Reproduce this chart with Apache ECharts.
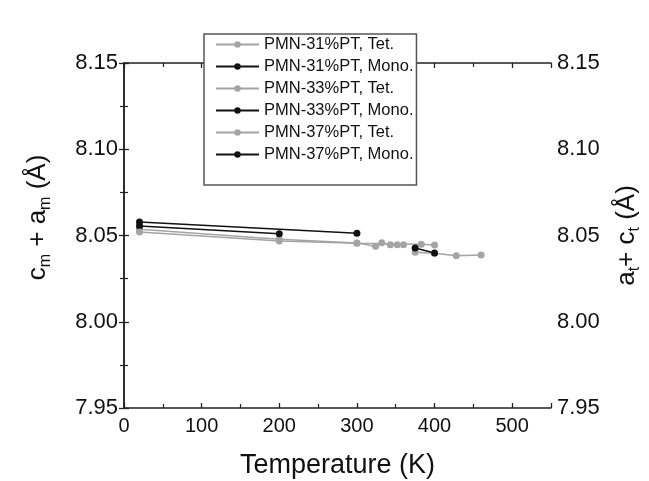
<!DOCTYPE html>
<html><head><meta charset="utf-8">
<script src="https://cdn.jsdelivr.net/npm/echarts@6/dist/echarts.min.js"></script>
<style>html,body{margin:0;padding:0;background:#fff}#c{width:649px;height:481px}</style>
</head><body><div id="c"></div>
<script>
const seriesNames = ['PMN-31%PT, Tet.','PMN-31%PT, Mono.','PMN-33%PT, Tet.','PMN-33%PT, Mono.','PMN-37%PT, Tet.','PMN-37%PT, Mono.'];
const pmn31Tet = [[375, 8.0403], [400, 8.0397], [428, 8.0383], [460, 8.0387]];
const pmn31Mono = [[20, 8.0578], [300, 8.0513]];
const pmn33Tet = [[20, 8.0536], [200, 8.0478], [300, 8.0456], [324, 8.0437], [332, 8.0458], [343, 8.0446], [352, 8.0447], [360, 8.0447]];
const pmn33Mono = [[20, 8.0555], [200, 8.0510]];
const pmn37Tet = [[20, 8.0520], [200, 8.0468], [300, 8.0455], [383, 8.0449], [400, 8.0445]];
const pmn37Mono = [[375, 8.0428], [400, 8.0399]];
const xTicks = [0, 100, 200, 300, 400, 500];
const yTicks = [7.95, 8.00, 8.05, 8.10, 8.15];

const gray = '#a4a4a4', black = '#111';
const datasets = [pmn31Tet, pmn31Mono, pmn33Tet, pmn33Mono, pmn37Tet, pmn37Mono];
const colors = [gray, black, gray, black, gray, black];
const chart = echarts.init(document.getElementById('c'));
const axisCol = '#222';
const commonY = {
  type: 'value', min: yTicks[0], max: yTicks[yTicks.length-1], interval: 0.05,
  axisLine: {show: true, lineStyle: {color: axisCol, width: 1.5}},
  axisTick: {inside: true, length: 5, lineStyle: {color: axisCol, width: 1.3}},
  minorTick: {show: true, splitNumber: 2, length: 4, lineStyle: {color: axisCol, width: 1.2}},
  splitLine: {show: false},
  axisLabel: {fontSize: 22, color: '#111', fontFamily: 'Liberation Sans', formatter: v => v.toFixed(2), margin: 6},
  nameLocation: 'middle', nameRotate: 90
};
const nameStyle = (pad) => ({fontSize: 26, color: '#111', fontFamily: 'Liberation Sans', padding: pad,
    rich: {s: {fontSize: 16, color: '#111', fontFamily: 'Liberation Sans', verticalAlign: 'bottom', padding: [16,0,0,0]}}});
chart.setOption({
  animation: false,
  grid: {left: 124, right: 98, top: 63, bottom: 73, outerBoundsMode: 'none', containLabel: false},
  legend: {
    orient: 'vertical', left: 204, top: 34,
    padding: [2, 3, 22, 11], itemGap: 5, itemWidth: 43, itemHeight: 8,
    backgroundColor: '#fff', borderColor: '#555', borderWidth: 1.5,
    textStyle: {fontSize: 16.5, lineHeight: 17, color: '#111', fontFamily: 'Liberation Sans'},
    data: seriesNames
  },
  xAxis: [{
    type: 'value', min: 0, max: 550, interval: 100, position: 'bottom',
    axisLine: {show: true, lineStyle: {color: axisCol, width: 1.5}},
    axisTick: {inside: true, length: 5, lineStyle: {color: axisCol, width: 1.3}},
    minorTick: {show: true, splitNumber: 2, length: 4, lineStyle: {color: axisCol, width: 1.2}},
    splitLine: {show: false},
    axisLabel: {fontSize: 20, color: '#111', fontFamily: 'Liberation Sans', showMaxLabel: false, margin: 8,
      formatter: v => xTicks.includes(v) ? String(v) : ''},
    name: 'Temperature (K)', nameLocation: 'middle', nameGap: 44,
    nameTextStyle: {fontSize: 27, color: '#111', fontFamily: 'Liberation Sans'}
  }, {
    type: 'value', min: 0, max: 550, interval: 100, position: 'top',
    axisLine: {show: true, lineStyle: {color: axisCol, width: 1.5}},
    axisTick: {inside: true, length: 5, lineStyle: {color: axisCol, width: 1.3}},
    minorTick: {show: true, splitNumber: 2, length: 4, lineStyle: {color: axisCol, width: 1.2}},
    splitLine: {show: false}, axisLabel: {show: false}
  }],
  yAxis: [Object.assign({}, commonY, {position: 'left', name: 'c{s|m} + a{s|m} (Å)', nameGap: 70, nameTextStyle: nameStyle([0,0,0,36])}),
          Object.assign({}, commonY, {position: 'right', name: 'a{s|t}+ c{s|t} (Å)', nameGap: 60, nameTextStyle: nameStyle([0,0,0,0])})],
  series: seriesNames.map((n, i) => ({
    name: n, type: 'line', data: datasets[i], xAxisIndex: 0, yAxisIndex: 0,
    symbol: 'circle', symbolSize: 7, showSymbol: true,
    lineStyle: {color: colors[i], width: 1.5},
    itemStyle: {color: colors[i]}
  }))
});
</script></body></html>
